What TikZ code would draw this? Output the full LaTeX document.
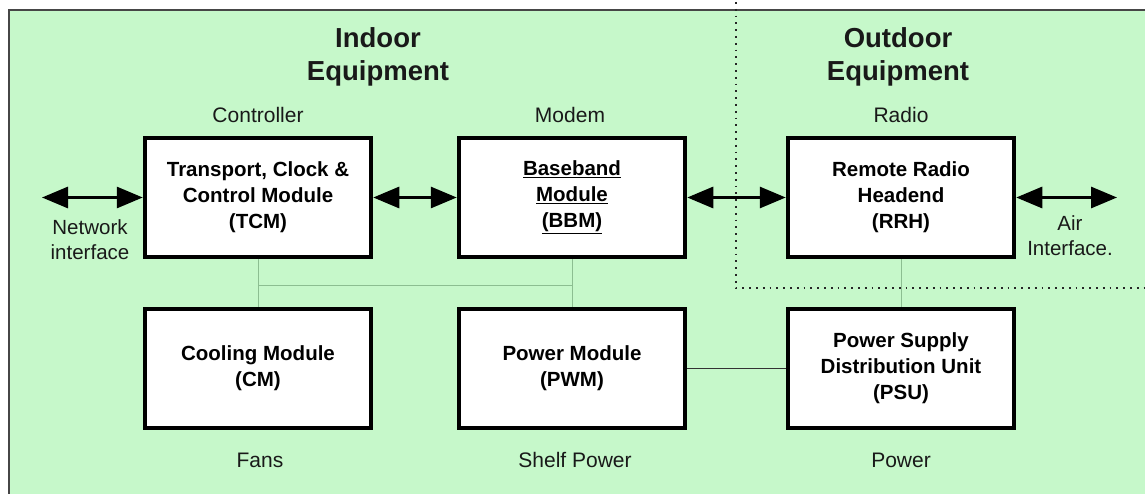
\documentclass[tikz,border=0pt]{standalone}
\usepackage{fontspec}
\setmainfont{Liberation Sans}
\usetikzlibrary{arrows.meta}
\definecolor{panel}{RGB}{198,248,202}
\definecolor{frameline}{RGB}{70,70,70}
\definecolor{busline}{RGB}{140,190,145}
\definecolor{txt}{RGB}{25,25,25}
\tikzset{
  module/.style={draw=black, fill=white, line width=4.5pt, minimum width=226pt,
    minimum height=119pt, inner sep=0pt, align=center, text=black,
    font=\bfseries\fontsize{20.5}{26}\selectfont},
  role/.style={font=\fontsize{21}{25}\selectfont, text=txt, anchor=base, inner sep=0pt},
  side/.style={font=\fontsize{20.5}{25}\selectfont, text=txt, align=center, inner sep=0pt},
  title/.style={font=\bfseries\fontsize{27.5}{33}\selectfont, text=txt, align=center, inner sep=0pt},
  link/.style={line width=3pt, {Triangle[length=26pt,width=21pt]}-{Triangle[length=26pt,width=21pt]}},
  bus/.style={draw=busline, line width=1pt},
  feed/.style={draw=black!80, line width=1.5pt},
  zone/.style={line width=1.8pt, dash pattern=on 1.8pt off 5pt, draw=black!85}
}
\begin{document}
\begin{tikzpicture}[x=1pt,y=-1pt]
  % canvas and panel
  \useasboundingbox (0,0) rectangle (1145,494);
  \fill[panel] (9,10) rectangle (1145,494);
  \draw[frameline, line width=1.5pt] (9,494) -- (9,10) -- (1145,10);

  % outdoor boundary
  \coordinate (zt) at (736,2);
  \coordinate (zc) at (736,288);
  \coordinate (zr) at (1145,288);
  \draw[zone] (zt) -- (zc) -- (zr);

  % titles
  \node[title] (tin) at (378,57) {Indoor\\Equipment};
  \node[title] (tout) at (898,57) {Outdoor\\Equipment};

  % modules
  \node[module] (tcm) at (258,197.5) {Transport, Clock \&\\Control Module\\(TCM)};
  \node[module] (bbm) at (572,197.5) {\underline{Baseband}\\\underline{Module}\\\underline{(BBM)}};
  \node[module] (rrh) at (901,197.5) {Remote Radio\\Headend\\(RRH)};
  \node[module] (cm)  at (258,368.5) {Cooling Module\\(CM)};
  \node[module] (pwm) at (572,368.5) {Power Module\\(PWM)};
  \node[module] (psu) at (901,368.5) {Power Supply\\Distribution Unit\\(PSU)};

  % role labels
  \node[role] (lctl) at (258,123) {Controller};
  \node[role] (lmod) at (570,123) {Modem};
  \node[role] (lrad) at (901,123) {Radio};
  \node[role] (lfan) at (260,467) {Fans};
  \node[role] (lshp) at (575,467) {Shelf Power};
  \node[role] (lpwr) at (901,467) {Power};

  % interface labels
  \node[side] (lnet) at (90,239.5) {Network\\interface};
  \node[side] (lair) at (1070,235.5) {Air\\Interface.};

  % signal links
  \coordinate (netend) at (42,197.5);
  \coordinate (airend) at (1117,197.5);
  \draw[link] (netend) -- (tcm.west);
  \draw[link] (tcm.east) -- (bbm.west);
  \draw[link] (bbm.east) -- (rrh.west);
  \draw[link] (rrh.east) -- (airend);

  % shelf bus
  \coordinate (busl) at (258,285);
  \coordinate (busr) at (572,285);
  \draw[bus] (tcm.south) -- (cm.north);
  \draw[bus] (bbm.south) -- (pwm.north);
  \draw[bus] (busl) -- (busr);
  \draw[bus] (rrh.south) -- (psu.north);

  % power feed
  \draw[feed] (pwm.east) -- (psu.west);
\end{tikzpicture}
\end{document}
